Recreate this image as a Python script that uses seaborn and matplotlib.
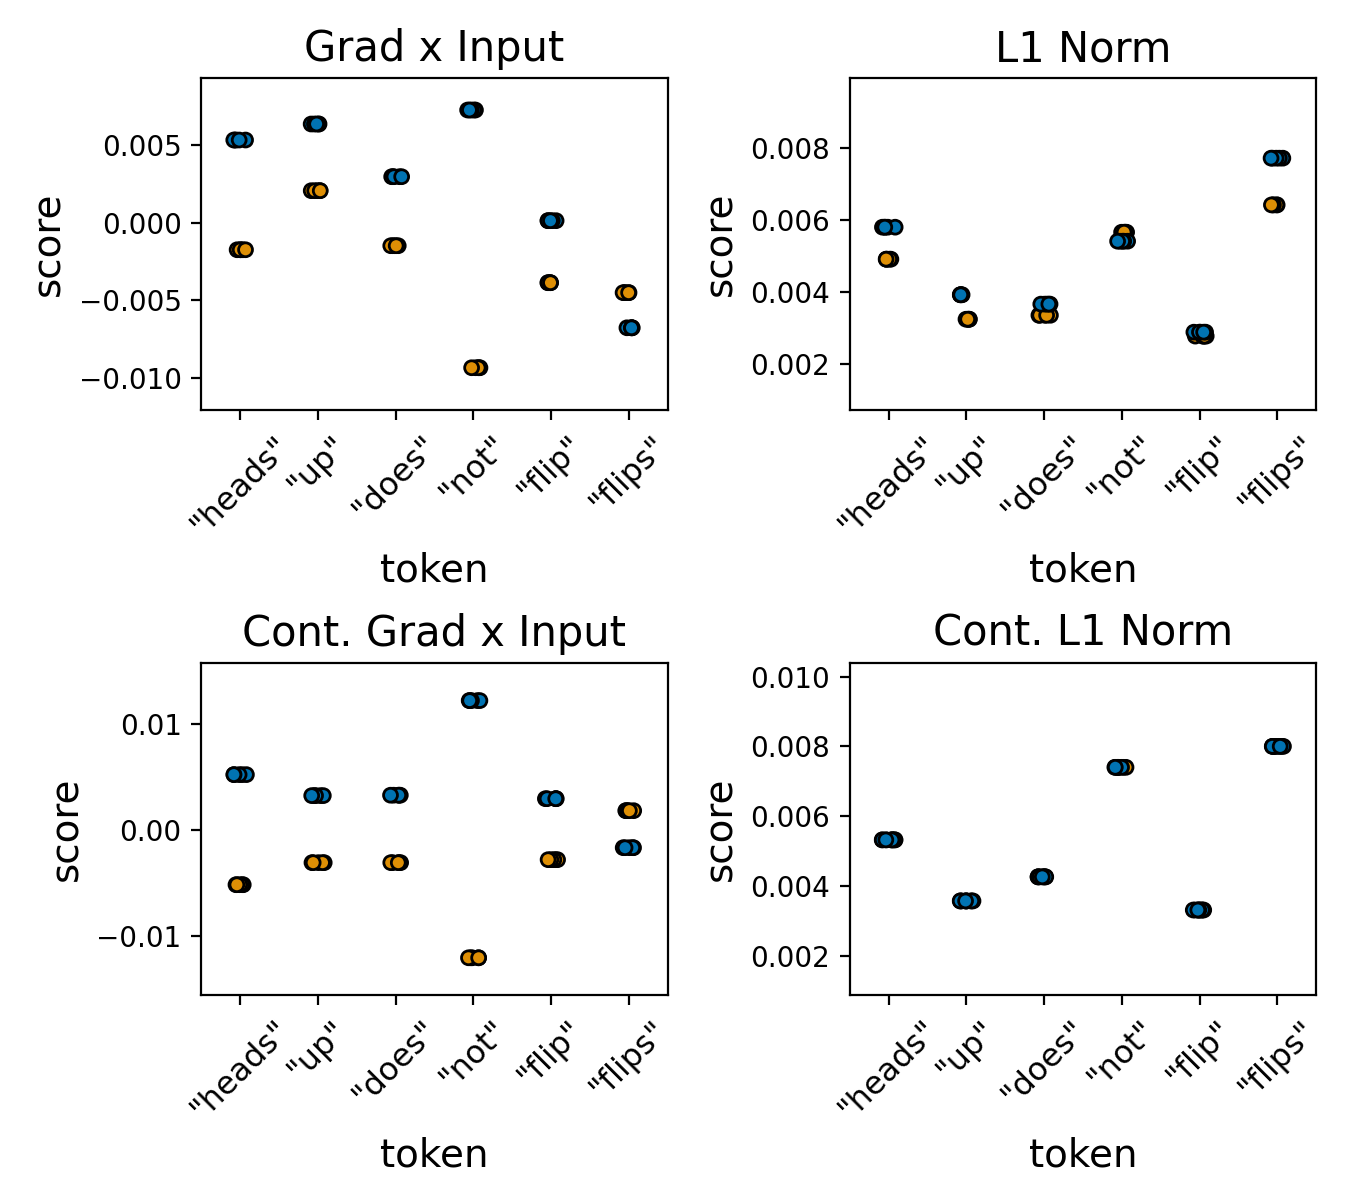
import numpy as np
import pandas as pd
import matplotlib
matplotlib.use("Agg")
import matplotlib.pyplot as plt
import seaborn as sns

tokens = ['"heads"', '"up"', '"does"', '"not"', '"flip"', '"flips"']
n_runs = 5  # repeated runs per token (identical scores)

# blue series ("pos") and orange series ("neg") per panel
gxi_pos = [0.00532, 0.00635, 0.00296, 0.00725, 0.00013, -0.00676]
gxi_neg = [-0.00174, 0.00206, -0.00148, -0.00933, -0.00386, -0.00450]

l1_pos = [0.00580, 0.00392, 0.00366, 0.00541, 0.00288, 0.00772]
l1_neg = [0.00491, 0.00324, 0.00335, 0.00566, 0.00277, 0.00642]

cgxi_pos = [0.00519, 0.00321, 0.00325, 0.01217, 0.00292, -0.00170]
cgxi_neg = [-0.00519, -0.00311, -0.00311, -0.01208, -0.00283, 0.00179]

cl1_pos = [0.00532, 0.00357, 0.00426, 0.00740, 0.00331, 0.00800]
cl1_neg = [0.00532, 0.00357, 0.00426, 0.00740, 0.00331, 0.00800]

titles = ["Grad x Input", "L1 Norm", "Cont. Grad x Input", "Cont. L1 Norm"]
ylims = [(-0.01206, 0.00931), (0.00071, 0.00995), (-0.01557, 0.01575), (0.00088, 0.0104)]
palette = {"neg": "#de8f05", "pos": "#0173b2"}


def make_frame(pos, neg):
    rows = []
    for tok, p, n in zip(tokens, pos, neg):
        for _ in range(n_runs):
            rows.append({"token": tok, "score": n, "label": "neg"})
        for _ in range(n_runs):
            rows.append({"token": tok, "score": p, "label": "pos"})
    return pd.DataFrame(rows)


frames = [make_frame(gxi_pos, gxi_neg), make_frame(l1_pos, l1_neg),
          make_frame(cgxi_pos, cgxi_neg), make_frame(cl1_pos, cl1_neg)]

np.random.seed(3)
fig, axes = plt.subplots(2, 2, figsize=(6.75, 6), dpi=200)
for ax, df, title, ylim in zip(axes.flat, frames, titles, ylims):
    sns.stripplot(data=df, x="token", y="score", hue="label", order=tokens,
                  palette=palette, jitter=0.09, size=5, edgecolor="black",
                  linewidth=1, legend=False, ax=ax)
    ax.set_ylim(*ylim)
    ax.set_title(title, fontsize=15)
    ax.set_xlabel("token", fontsize=14)
    ax.set_ylabel("score", fontsize=14)
    ax.tick_params(axis="x", labelrotation=45, labelsize=11.5)

fig.subplots_adjust(left=0.149, right=0.975, top=0.935, bottom=0.171,
                    wspace=0.39, hspace=0.76)
fig.savefig("out.png", dpi=200)
